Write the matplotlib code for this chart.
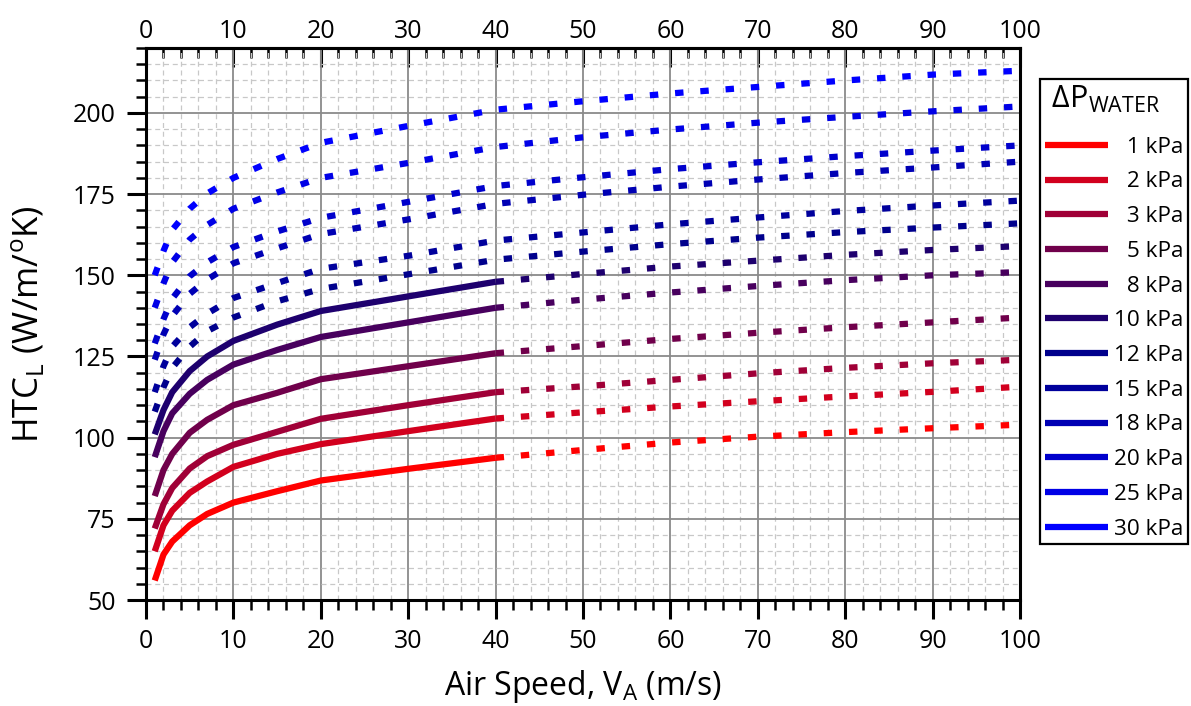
import matplotlib
matplotlib.use("Agg")
import matplotlib.pyplot as plt
from matplotlib.lines import Line2D
from matplotlib.ticker import MultipleLocator
import numpy as np

plt.rcParams['font.family'] = ['Open Sans', 'DejaVu Sans']
plt.rcParams['mathtext.fontset'] = 'custom'
plt.rcParams['mathtext.rm'] = 'Open Sans'

# ---------------- data ----------------
air_speed = [1, 2, 3, 5, 7, 10, 15, 20, 30, 40, 50, 60, 70, 80, 90, 100]

htc_1kpa  = [56, 64, 68, 73, 76.5, 80, 83.5, 86.8, 90.4, 93.8, 96.2, 98.5, 100.3, 101.7, 102.9, 104]
htc_2kpa  = [65, 73, 77.5, 83, 86.5, 91, 95, 98, 102, 105.9, 107.8, 109.6, 111.2, 112.7, 114.1, 115.7]
htc_3kpa  = [72, 79.5, 84.5, 90.5, 94.3, 97.8, 101.8, 105.8, 110, 114, 115.8, 117.8, 119.8, 121.5, 122.9, 124]
htc_5kpa  = [82, 90, 95, 101.5, 105.5, 110, 113.8, 118, 122, 126, 128.2, 130.4, 132.3, 134, 135.5, 137]
htc_8kpa  = [94, 102, 107.5, 113.5, 117.8, 122.5, 127, 131, 135.5, 140, 142.5, 144.7, 146.7, 148.5, 150, 151]
htc_10kpa = [101, 108.5, 114, 120.5, 125, 129.8, 134.8, 139, 143.5, 148, 150.4, 152.7, 154.5, 156.3, 157.8, 159]
htc_12kpa = [108, 115.5, 121.5, 128, 132.8, 137, 142, 145.8, 150.3, 154.8, 157.3, 159.6, 161.6, 163.3, 164.7, 166]
htc_15kpa = [114, 122, 128, 134, 138.2, 143, 147.6, 152, 156, 160.7, 163.2, 165.7, 167.8, 169.8, 171.5, 173]
htc_18kpa = [124, 131.8, 137.5, 144.3, 148.7, 153.7, 158.3, 162.7, 167.2, 172, 174.8, 177.3, 179.5, 181.5, 183.2, 185]
htc_20kpa = [129, 136.5, 142.8, 149.7, 154, 158.7, 163.5, 167.7, 172.6, 177.5, 180.2, 182.7, 184.8, 186.7, 188.4, 190]
htc_25kpa = [140, 147.5, 154, 161, 165.5, 170.5, 175.5, 180, 184.6, 189.5, 192.5, 194.9, 197, 198.8, 200.5, 202]
htc_30kpa = [150, 157.5, 164, 170.5, 175.2, 180, 185.8, 190.8, 196, 201, 203.6, 206, 208, 210, 211.8, 213]

pressures = [1, 2, 3, 5, 8, 10, 12, 15, 18, 20, 25, 30]
series = [htc_1kpa, htc_2kpa, htc_3kpa, htc_5kpa, htc_8kpa, htc_10kpa,
          htc_12kpa, htc_15kpa, htc_18kpa, htc_20kpa, htc_25kpa, htc_30kpa]
# pressures whose curve is measured (solid) up to 40 m/s
solid_pressures = [1, 2, 3, 5, 8, 10]
solid_limit = 40

colors = ['#ff0000', '#d2001e', '#a00037', '#70004b', '#48005e', '#1e006e',
          '#00008c', '#00009c', '#0000b4', '#0000cc', '#0000e6', '#0000ff']

# ---------------- figure ----------------
W, H = 1191, 706
fig = plt.figure(figsize=(W / 100, H / 100), dpi=100)
ax = fig.add_axes([146 / W, 106 / H, 874 / W, 552 / H])

x = np.array(air_speed, dtype=float)
lw = 4.5
dotted = (0, (1.35, 2.7))
for p, y, c in zip(pressures, series, colors):
    y = np.array(y, dtype=float)
    if p in solid_pressures:
        m1 = x <= solid_limit
        m2 = x >= solid_limit
        ax.plot(x[m1], y[m1], color=c, lw=lw, solid_capstyle='butt', zorder=3)
        ax.plot(x[m2], y[m2], color=c, lw=lw, linestyle=dotted, zorder=3)
    else:
        ax.plot(x, y, color=c, lw=lw, linestyle=dotted, zorder=3)

ax.set_xlim(0, 100)
ax.set_ylim(50, 220)

ax.xaxis.set_major_locator(MultipleLocator(10))
ax.xaxis.set_minor_locator(MultipleLocator(2))
ax.yaxis.set_major_locator(MultipleLocator(25))
ax.yaxis.set_minor_locator(MultipleLocator(5))

ax.grid(which='major', color='#8a8a8a', lw=1.3, zorder=1)
ax.grid(which='minor', color='#c8c8c8', lw=0.9, linestyle=(0, (4, 3)), zorder=0)
ax.set_axisbelow(True)

for s in ax.spines.values():
    s.set_linewidth(2.2)
    s.set_color('black')
    s.set_zorder(5)

tick_fs = 18
ax.tick_params(axis='x', which='major', bottom=True, top=False, length=14, width=2.2,
               labelsize=tick_fs, pad=7, direction='out')
ax.tick_params(axis='x', which='minor', bottom=True, top=False, length=7, width=1.8, direction='out')
ax.tick_params(axis='y', which='major', left=True, right=False, length=14, width=2.2,
               labelsize=tick_fs, pad=8, direction='out')
ax.tick_params(axis='y', which='minor', left=True, right=False, length=7, width=1.8, direction='out')

# top axis: same scale, ticks pointing inward
top = ax.secondary_xaxis('top')
top.xaxis.set_major_locator(MultipleLocator(10))
top.xaxis.set_minor_locator(MultipleLocator(2))
top.tick_params(which='major', direction='in', length=14, width=2.2, labelsize=tick_fs, pad=3)
top.tick_params(which='minor', direction='in', length=7, width=1.8)
top.spines['top'].set_linewidth(2.2)

ax.set_xlabel(r'Air Speed, V$_\mathregular{A}$ (m/s)', fontsize=23, labelpad=10)
ax.set_ylabel(r'HTC$_\mathregular{L}$ (W/m/$^\mathregular{o}$K)', fontsize=25, labelpad=18)

# ---------------- legend ----------------
leg_fs = 16.2
handles = [Line2D([], [], color=c, lw=lw, solid_capstyle='butt') for c in colors]
labels = [('\u2007' if p < 10 else '') + f'{p} kPa' for p in pressures]
leg = fig.legend(handles, labels, loc='upper left',
                 bbox_to_anchor=(1040 / W, 1 - 79 / H), bbox_transform=fig.transFigure,
                 borderaxespad=0, fontsize=leg_fs, title=' ΔP$_\\mathregular{WATER}$',
                 title_fontsize=22, alignment='left', handlelength=2.8, handletextpad=0.3,
                 labelspacing=0.61, borderpad=0.2, fancybox=False, framealpha=1,
                 edgecolor='black')
leg.get_frame().set_linewidth(1.6)
# extra room between the title and the entries, as in the original
leg._legend_box.sep = 0.61 * leg_fs + 6

fig.savefig('out.png', dpi=100)
